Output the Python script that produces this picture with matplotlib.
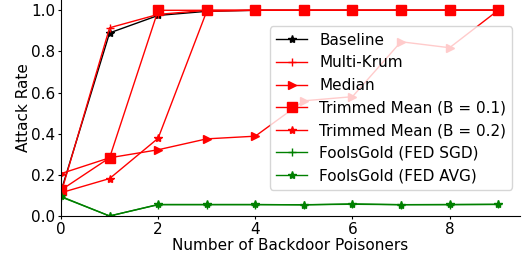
import matplotlib
matplotlib.use('Agg')
import matplotlib.pyplot as plt

poisoners = list(range(10))

baseline = [0.12, 0.89, 0.975, 0.995, 1.0, 1.0, 1.0, 1.0, 1.0, 1.0]
multi_krum = [0.11, 0.915, 0.98, 1.0, 1.0, 1.0, 1.0, 1.0, 1.0, 1.0]
median = [0.206, 0.283, 0.322, 0.375, 0.388, 0.56, 0.58, 0.847, 0.818, 1.0]
trimmed_01 = [0.126, 0.283, 1.0, 1.0, 1.0, 1.0, 1.0, 1.0, 1.0, 1.0]
trimmed_02 = [0.113, 0.182, 0.378, 0.995, 1.0, 1.0, 1.0, 1.0, 1.0, 1.0]
fg_sgd = [0.093, 0.0, 0.055, 0.055, 0.055, 0.055, 0.057, 0.055, 0.055, 0.056]
fg_avg = [0.095, 0.0, 0.056, 0.056, 0.056, 0.054, 0.059, 0.055, 0.056, 0.057]

plt.rcParams['font.size'] = 11

fig = plt.figure(figsize=(5.26, 2.58), dpi=100)
ax = fig.add_axes([61/526, 42/258, 459/526, 216/258])

ax.plot(poisoners, baseline, c='k', marker='*', lw=1, label='Baseline')
ax.plot(poisoners, multi_krum, c='r', marker='+', lw=1, label='Multi-Krum')
ax.plot(poisoners, median, c='r', marker='>', lw=1, label='Median')
ax.plot(poisoners, trimmed_01, c='r', marker='s', ms=7, lw=1, label='Trimmed Mean (B = 0.1)')
ax.plot(poisoners, trimmed_02, c='r', marker='*', lw=1, label='Trimmed Mean (B = 0.2)')
ax.plot(poisoners, fg_sgd, c='g', marker='+', lw=1, label='FoolsGold (FED SGD)')
ax.plot(poisoners, fg_avg, c='g', marker='*', lw=1, label='FoolsGold (FED AVG)')

ax.set_xlim(left=0)
ax.set_ylim(bottom=0)
ax.spines['top'].set_visible(False)
ax.spines['right'].set_visible(False)
ax.tick_params(length=2, pad=2)
ax.set_xlabel('Number of Backdoor Poisoners', labelpad=1)
ax.set_ylabel('Attack Rate', labelpad=0)
ax.legend(loc='center right')

fig.savefig('out.png', dpi=100)
